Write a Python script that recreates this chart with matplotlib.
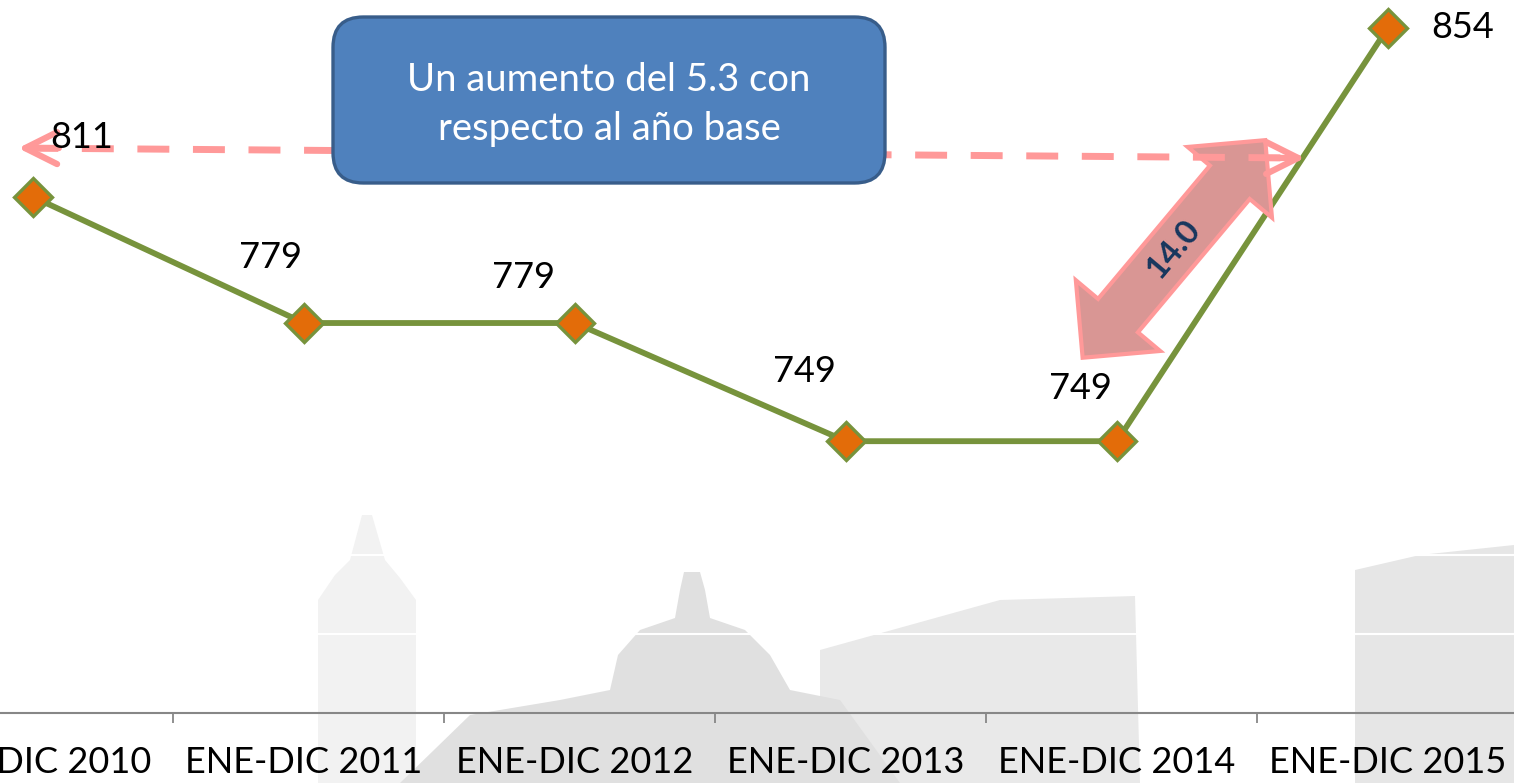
import numpy as np
import matplotlib.pyplot as plt
from matplotlib.patches import FancyBboxPatch, Polygon
from matplotlib.transforms import Affine2D, ScaledTranslation

plt.rcParams['font.family'] = ['Lato', 'DejaVu Sans']

# =========================
# DATA
# =========================
periodos = ["ENE-DIC 2010", "ENE-DIC 2011", "ENE-DIC 2012",
            "ENE-DIC 2013", "ENE-DIC 2014", "ENE-DIC 2015"]
valores = [811, 779, 779, 749, 749, 854]

# label offsets (points) for each data label
label_offsets = [(35, 43), (-24, 47), (-37, 33), (-30, 50), (-26, 38), (54, 0)]

texto_caja = "Un aumento del 5.3 con\nrespecto al año base"
texto_flecha = "14.0"

# =========================
# FIGURE
# =========================
W, H = 1514, 783
fig = plt.figure(figsize=(W / 100, H / 100), dpi=100)
ax = fig.add_axes([0, 70 / H, 1, 713 / H])
ax.patch.set_visible(False)

x = np.arange(len(periodos))
ax.set_xlim(-0.122, 5.465)
ax.set_ylim(680, 861)

# faint skyline in the background (figure pixels, y from top)
px = Affine2D().scale(1 / W, -1 / H).translate(0, 1) + fig.transFigure
skyline = [
    ("#f2f2f2", [(318, 783), (318, 600), (335, 575), (350, 560), (362, 515),
                 (372, 515), (385, 560), (400, 578), (416, 600), (416, 783)]),
    ("#e9e9e9", [(820, 783), (820, 650), (1000, 600), (1135, 596), (1140, 783)]),
    ("#e0e0e0", [(400, 783), (470, 715), (560, 700), (610, 690), (618, 655),
                 (640, 630), (675, 618), (680, 590), (684, 572), (700, 572),
                 (705, 590), (710, 618), (745, 630), (770, 655), (790, 690),
                 (840, 700), (900, 783)]),
    ("#e6e6e6", [(1355, 783), (1355, 570), (1420, 555), (1514, 545), (1514, 783)]),
]
for col, pts in skyline:
    ax.add_patch(Polygon(pts, closed=True, transform=px, fc=col, ec="none",
                         zorder=0.1, clip_on=False))

# white gridlines (only visible over the skyline)
ax.set_yticks(np.arange(680, 861, 20))
ax.yaxis.grid(True, color="white", lw=1.5)
ax.set_axisbelow(True)
ax.tick_params(axis="y", left=False, labelleft=False)

# x axis
for s in ["left", "right", "top"]:
    ax.spines[s].set_visible(False)
ax.spines["bottom"].set_color("#878787")
ax.spines["bottom"].set_linewidth(1.5)
ax.set_xticks(x)
ax.set_xticklabels(periodos, fontsize=26, color="black")
ax.set_xticks(x[:-1] + 0.515, minor=True)
ax.tick_params(axis="x", which="major", length=0, pad=24)
ax.tick_params(axis="x", which="minor", length=7, width=1.3, color="#878787")

# main line
ax.plot(x, valores, color="#77933C", lw=4.2, marker="D", markersize=19,
        markerfacecolor="#E36C09", markeredgecolor="#77933C",
        markeredgewidth=2.4, zorder=3, clip_on=False)

for xi, v, off in zip(x, valores, label_offsets):
    ax.annotate(f"{v}", (xi, v), xytext=off, textcoords="offset points",
                ha="center", va="center", fontsize=26, color="black", zorder=6)

# dashed double arrow
pink = "#FF9999"
xl, yl = -0.055, 823.4
xr, yr = 4.694, 820.9
ax.plot([xl + 0.03, xr - 0.03], [yl, yr], color=pink, lw=5,
        linestyle=(0, (4.6, 3.4)), dash_capstyle="butt", zorder=4.5, clip_on=False)
for tip, tail in [((xl, yl), (xl + 0.15, yl)), ((xr, yr), (xr - 0.15, yr))]:
    ax.annotate("", xy=tip, xytext=tail,
                arrowprops=dict(arrowstyle="->,head_length=2.3,head_width=1.15",
                                color=pink, lw=4.5, mutation_scale=10,
                                shrinkA=0, shrinkB=0, capstyle="round",
                                joinstyle="round"),
                zorder=4.5)

# fat double arrow (shape in inches, centred on a data position)
cx, cy = 4.21, 797.8
ang = np.deg2rad(50)
L, hl, hw, sw = 1.42, 0.55, 0.55, 0.26
shape = np.array([(L, 0), (L - hl, hw), (L - hl, sw), (-L + hl, sw), (-L + hl, hw),
                  (-L, 0), (-L + hl, -hw), (-L + hl, -sw), (L - hl, -sw), (L - hl, -hw)])
rot = np.array([[np.cos(ang), -np.sin(ang)], [np.sin(ang), np.cos(ang)]])
shape = shape @ rot.T
trans = fig.dpi_scale_trans + ScaledTranslation(cx, cy, ax.transData)
ax.add_patch(Polygon(shape, closed=True, transform=trans, fc="#D99694",
                     ec=pink, lw=3, joinstyle="miter", zorder=4, clip_on=False))
ax.text(cx, cy, texto_flecha, rotation=50, rotation_mode="anchor",
        ha="center", va="center", fontsize=24, fontweight="bold",
        color="#17375E", zorder=4.6)

# blue callout box
bx0, by0 = 333 / W, (713 - 183) / 713
bw, bh = (885 - 333) / W, (183 - 17) / 713
ax.add_patch(FancyBboxPatch((bx0, by0), bw, bh,
                            boxstyle="round,pad=0,rounding_size=0.02",
                            mutation_aspect=W / 713, transform=ax.transAxes,
                            fc="#4F81BD", ec="#385D8A", lw=2.4, zorder=5))
ax.text(bx0 + bw / 2, by0 + bh / 2 - 0.006, texto_caja, transform=ax.transAxes,
        ha="center", va="center", color="white", fontsize=27.5, linespacing=1.45,
        zorder=6)

fig.savefig("out.png", dpi=100)
